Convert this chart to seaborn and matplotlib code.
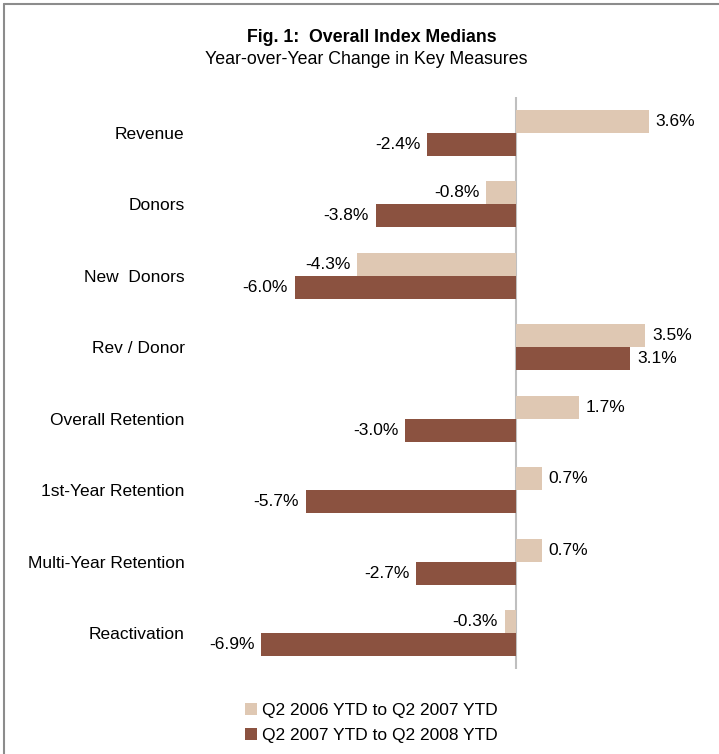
import matplotlib
matplotlib.use("Agg")
import matplotlib.pyplot as plt
import seaborn as sns
import pandas as pd
from matplotlib.lines import Line2D
from matplotlib.patches import Patch

categories = ["Revenue", "Donors", "New  Donors", "Rev / Donor", "Overall Retention",
              "1st-Year Retention", "Multi-Year Retention", "Reactivation"]
series_names = ["Q2 2006 YTD to Q2 2007 YTD", "Q2 2007 YTD to Q2 2008 YTD"]
vals_0607 = [3.6, -0.8, -4.3, 3.5, 1.7, 0.7, 0.7, -0.3]
vals_0708 = [-2.4, -3.8, -6.0, 3.1, -3.0, -5.7, -2.7, -6.9]
colors = ["#DFC8B3", "#8B5240"]

df = pd.DataFrame({
    "Measure": categories * 2,
    "Period": [series_names[0]] * len(categories) + [series_names[1]] * len(categories),
    "Change": vals_0607 + vals_0708,
})

sns.set_style("white")
plt.rcParams["font.family"] = ["Liberation Sans", "DejaVu Sans"]
plt.rcParams["text.color"] = "black"
plt.rcParams["ytick.color"] = "black"

W, H = 719, 754
fig = plt.figure(figsize=(W / 100, H / 100), dpi=100)
ax = fig.add_axes([200 / W, (H - 669) / H, 500 / W, 572 / H])

sns.barplot(data=df, y="Measure", x="Change", hue="Period", order=categories,
            hue_order=series_names, palette=colors, orient="h", width=0.644,
            saturation=1, ax=ax, legend=False, linewidth=0, edgecolor="none")

px_per = 36.9
ax.set_xlim((200 - 516) / px_per, (700 - 516) / px_per)
ax.set_ylim(7.5, -0.5)
ax.axvline(0, color="#BFBFBF", lw=1.5, zorder=0)

for cont in ax.containers:
    ax.bar_label(cont, labels=[f"{v:.1f}%" for v in cont.datavalues],
                 padding=5, fontsize=12.5, color="#000000")

for s in ax.spines.values():
    s.set_visible(False)
ax.set_xticks([])
ax.set_xlabel("")
ax.set_ylabel("")
ax.tick_params(axis="y", length=0, pad=11, labelsize=12.5, labelcolor="black")

fig.text(372 / W, 1 - 38 / H, "Fig. 1:  Overall Index Medians", ha="center", va="center",
         fontsize=12.8, fontweight="bold", color="black")
fig.text(366 / W, 1 - 60 / H, "Year-over-Year Change in Key Measures", ha="center", va="center",
         fontsize=12.8, color="black")

handles = [Patch(facecolor=c, edgecolor="none") for c in colors]
fig.legend(handles, series_names, loc="center left",
           bbox_to_anchor=(229 / W, 1 - 723 / H), frameon=False, fontsize=12.5,
           handlelength=0.7, handleheight=0.7, handletextpad=0.3, labelspacing=0.55,
           labelcolor="black")

# border lines (left and top)
fig.add_artist(Line2D([4 / W, 4 / W], [0, 1 - 4 / H], transform=fig.transFigure,
                      color="#8C8C8C", lw=1.5))
fig.add_artist(Line2D([4 / W, 1], [1 - 4 / H, 1 - 4 / H], transform=fig.transFigure,
                      color="#8C8C8C", lw=1.5))

fig.savefig("out.png", dpi=100)
